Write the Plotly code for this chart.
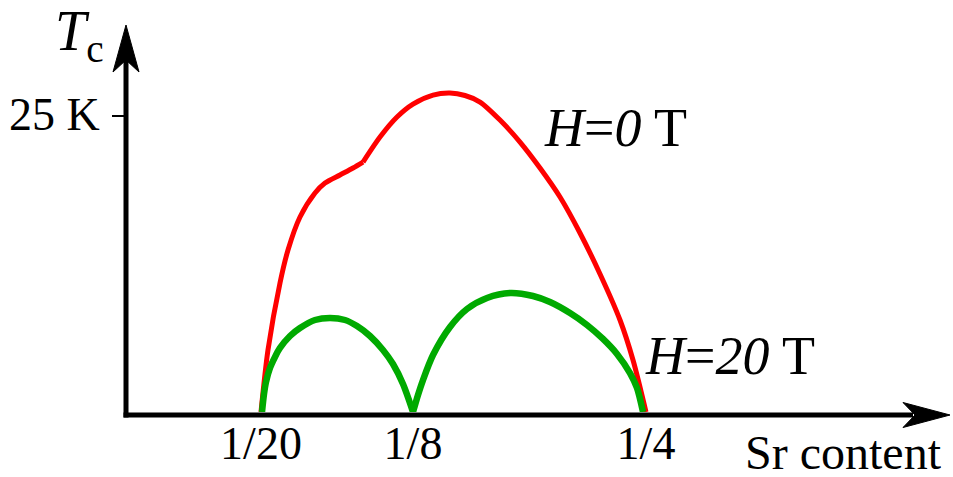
import plotly.graph_objects as go

# ---- data (schematic Sr-content position along the axis, Tc in K) ----
red_x = [13.6, 14.3, 15.5, 16.3, 17.5, 19.0, 20.0, 21.5, 22.8, 23.8,
         25.5, 27.2, 28.8, 30.8, 32.5, 34.0, 35.5, 37.5, 39.5,
         41.5, 43.5, 45.5, 47.5, 49.5, 50.8, 52.1]
red_tc = [0, 5.24, 10.90, 13.68, 16.47, 18.50, 19.34, 20.02, 20.61, 21.11,
          23.23, 24.92, 26.01, 26.77, 26.94, 26.73, 26.18, 24.66, 22.80,
          20.61, 18.16, 15.12, 11.66, 7.77, 4.39, 0]
red_kink = 9  # index of the kink in the H=0 curve

green1_x = [13.7, 13.9, 14.1, 14.5, 15.0, 15.5, 16.5, 17.5, 19.0, 20.5,
            22.0, 23.2, 24.5, 25.8, 26.8, 27.8, 28.8]
green1_tc = [0, 1.52, 2.53, 3.72, 4.65, 5.41, 6.42, 7.09, 7.77, 7.94,
             7.77, 7.26, 6.42, 5.24, 4.05, 2.36, 0]

green2_x = [28.8, 29.3, 29.8, 30.8, 32.5, 34.2, 36.2, 38.5, 40.8, 42.5,
            44.5, 46.2, 47.8, 49.2, 50.5, 51.2, 51.8]
green2_tc = [0, 1.44, 2.70, 4.81, 7.18, 8.70, 9.63, 10.05, 9.80, 9.29,
             8.36, 7.35, 6.17, 4.90, 3.29, 2.03, 0]

x_tick_vals = [13.6, 28.8, 52.1]
x_tick_text = ["1/20", "1/8", "1/4"]
y_tick_vals = [25]
y_tick_text = ["25 K"]

# ---- layout geometry (pixels) ----
W, H = 953, 477
L, R, T, B = 126, 3, 25, 65
PW, PH = W - L - R, H - T - B
KPX = 11.84   # pixels per kelvin
FONT = "Liberation Serif"


def px(xp):
    return (xp - L) / PW


def py(yp):
    return (H - B - yp) / PH


RED = dict(color="#ff0000", width=5, shape="spline", smoothing=0.8)
GREEN = dict(color="#00aa00", width=6.5, shape="spline", smoothing=0.8)

fig = go.Figure()
fig.add_trace(go.Scatter(x=red_x[:red_kink + 1], y=red_tc[:red_kink + 1], mode="lines",
                         line=RED, hoverinfo="skip"))
fig.add_trace(go.Scatter(x=red_x[red_kink:], y=red_tc[red_kink:], mode="lines",
                         line=RED, hoverinfo="skip"))
fig.add_trace(go.Scatter(x=green1_x, y=green1_tc, mode="lines", line=GREEN, hoverinfo="skip"))
fig.add_trace(go.Scatter(x=green2_x, y=green2_tc, mode="lines", line=GREEN, hoverinfo="skip"))

# axes with arrows (pixel-sized shapes anchored at the plot origin)
ax_common = dict(xref="paper", yref="paper", xsizemode="pixel", ysizemode="pixel",
                 xanchor=0, yanchor=0, layer="above")
fig.add_shape(type="line", x0=0, x1=0, y0=-5.5, y1=352,
              line=dict(color="black", width=5), **ax_common)
fig.add_shape(type="line", x0=-2.5, x1=787, y0=-3, y1=-3,
              line=dict(color="black", width=5), **ax_common)
fig.add_shape(type="path", path="M 0,387 L 13,340 L 0,352 L -13,340 Z",
              fillcolor="black", line=dict(color="black", width=1), **ax_common)
fig.add_shape(type="path", path="M 824,-3 L 777,9.5 L 789,-3 L 777,-15.5 Z",
              fillcolor="black", line=dict(color="black", width=1), **ax_common)

ann_font = dict(family=FONT, size=54, color="black")
fig.add_annotation(x=px(79), y=py(35), xref="paper", yref="paper", showarrow=False,
                   text="<i>T</i><sub>c</sub>", font=dict(family=FONT, size=56, color="black"),
                   height=64, valign="middle",
                   xanchor="center", yanchor="middle")
fig.add_annotation(x=px(102), y=py(114), xref="paper", yref="paper", showarrow=False,
                   text=y_tick_text[0], font=dict(family=FONT, size=46, color="black"),
                   xanchor="right", yanchor="middle")
fig.add_annotation(x=px(615), y=py(128), xref="paper", yref="paper", showarrow=False,
                   text="<i>H</i>=<i>0</i> T", font=ann_font, xanchor="center", yanchor="middle")
fig.add_annotation(x=px(730), y=py(356), xref="paper", yref="paper", showarrow=False,
                   text="<i>H</i>=<i>20</i> T", font=ann_font, xanchor="center", yanchor="middle")
fig.add_annotation(x=px(843), y=py(452), xref="paper", yref="paper", showarrow=False,
                   text="Sr content", font=dict(family=FONT, size=48, color="black"),
                   height=42, valign="middle",
                   xanchor="center", yanchor="middle")

fig.update_layout(
    width=W, height=H,
    margin=dict(l=L, r=R, t=T, b=B, pad=0),
    paper_bgcolor="white", plot_bgcolor="white",
    showlegend=False,
    xaxis=dict(range=[0.1, 0.1 + PW / 10], showgrid=False, zeroline=False, showline=False,
               tickmode="array", tickvals=x_tick_vals, ticktext=x_tick_text, ticks="",
               tickfont=dict(family=FONT, size=46, color="black"), fixedrange=True),
    yaxis=dict(range=[0, PH / KPX], showgrid=False, zeroline=False,
               showline=False, tickmode="array", tickvals=y_tick_vals,
               showticklabels=False,
               ticks="outside", ticklen=13, tickwidth=2, tickcolor="black",
               fixedrange=True),
)

fig.write_html("out.html", config={"displayModeBar": False},
               post_script="document.body.style.margin='0px';")
